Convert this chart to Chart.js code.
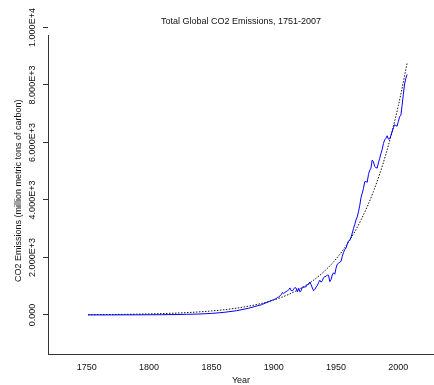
<!DOCTYPE html>
<html>
<head>
<meta charset="utf-8">
<script src="https://cdn.jsdelivr.net/npm/chart.js@4/dist/chart.umd.min.js"></script>
<style>body{margin:0;background:#fff}</style>
</head>
<body>
<canvas id="c" width="434" height="385"></canvas>
<script>
// annual global CO2 emissions (million metric tons of carbon)
const years = [1751, 1760, 1770, 1780, 1790, 1800, 1810, 1820, 1830, 1840, 1850, 1860, 1870, 1880, 1890,
  1900, 1901, 1902, 1903, 1904, 1905, 1906, 1907, 1908, 1909, 1910, 1911, 1912, 1913, 1914, 1915, 1916, 1917, 1918, 1919,
  1920, 1921, 1922, 1923, 1924, 1925, 1926, 1927, 1928, 1929, 1930, 1931, 1932, 1933, 1934, 1935, 1936, 1937, 1938, 1939,
  1940, 1941, 1942, 1943, 1944, 1945, 1946, 1947, 1948, 1949, 1950, 1951, 1952, 1953, 1954, 1955, 1956, 1957, 1958, 1959,
  1960, 1961, 1962, 1963, 1964, 1965, 1966, 1967, 1968, 1969, 1970, 1971, 1972, 1973, 1974, 1975, 1976, 1977, 1978, 1979,
  1980, 1981, 1982, 1983, 1984, 1985, 1986, 1987, 1988, 1989, 1990, 1991, 1992, 1993, 1994, 1995, 1996, 1997, 1998, 1999,
  2000, 2001, 2002, 2003, 2004, 2005, 2006, 2007];
const emissions = [3, 3, 3, 4, 5, 8, 10, 14, 24, 33, 54, 91, 147, 236, 356,
  534, 552, 566, 617, 624, 663, 707, 784, 750, 785, 819, 836, 879, 943, 850, 838, 901, 955, 936, 806,
  932, 803, 845, 970, 963, 975, 983, 1062, 1065, 1145, 1053, 940, 847, 893, 973, 1027, 1130, 1209, 1142, 1192,
  1299, 1334, 1342, 1391, 1383, 1160, 1238, 1392, 1469, 1419, 1630, 1768, 1796, 1841, 1865, 2043, 2178, 2270, 2330, 2462,
  2577, 2594, 2700, 2848, 3008, 3145, 3305, 3411, 3588, 3800, 4076, 4231, 4399, 4635, 4644, 4615, 4883, 5029, 5105, 5387,
  5332, 5168, 5127, 5110, 5290, 5444, 5610, 5753, 5964, 6089, 6144, 6235, 6118, 6124, 6242, 6372, 6510, 6619, 6588, 6569,
  6735, 6896, 6949, 7286, 7672, 8036, 8230, 8365];

// dotted trend curve
const fitYears = [1751, 1760, 1770, 1780, 1790, 1800, 1810, 1820, 1830, 1840, 1850, 1860, 1870, 1880, 1890,
  1900, 1910, 1920, 1930, 1940, 1950, 1960, 1970, 1980, 1990, 2000, 2007];
const fitValues = [10, 13, 17, 22, 29, 37, 49, 63, 82, 107, 140, 182, 237, 308, 401,
  521, 679, 884, 1150, 1497, 1948, 2536, 3302, 4297, 5593, 7280, 8755];

const xTicks = [1750, 1800, 1850, 1900, 1950, 2000];
const yTicks = [0, 2000, 4000, 6000, 8000, 10000];
const yAxisTop = 9740;

function sci(v) {
  if (v === 0) return '0.000';
  const e = Math.floor(Math.log10(v));
  return (v / Math.pow(10, e)).toFixed(3) + 'E+' + e;
}

// left axis line stops short of the top tick, like the original
const axisLine = {
  id: 'axisLine',
  afterDraw(chart) {
    const y = chart.scales.y, ctx = chart.ctx;
    const x = Math.round(chart.chartArea.left) + 0.5;
    ctx.save();
    ctx.strokeStyle = '#333';
    ctx.lineWidth = 1;
    ctx.beginPath();
    ctx.moveTo(x, y.getPixelForValue(yAxisTop));
    ctx.lineTo(x, chart.chartArea.bottom + 0.5);
    ctx.stroke();
    ctx.restore();
  }
};

const font = { family: 'Liberation Sans, Arial, sans-serif', size: 9, weight: 'normal' };

new Chart(document.getElementById('c').getContext('2d'), {
  type: 'line',
  data: {
    datasets: [{
      data: years.map((y, i) => ({ x: y, y: emissions[i] })),
      borderColor: '#0000ff',
      borderWidth: 1,
      pointRadius: 0,
      tension: 0,
      fill: false
    }, {
      data: fitYears.map((y, i) => ({ x: y, y: fitValues[i] })),
      borderColor: '#111',
      borderWidth: 1,
      borderDash: [1.5, 1.5],
      pointRadius: 0,
      cubicInterpolationMode: 'monotone',
      fill: false
    }]
  },
  options: {
    responsive: false,
    animation: false,
    layout: { padding: 0 },
    plugins: {
      legend: { display: false },
      tooltip: { enabled: false },
      title: {
        display: true,
        text: 'Total Global CO2 Emissions, 1751-2007',
        color: '#111',
        fullSize: false,
        font: { ...font, lineHeight: 1 },
        padding: { top: 17, bottom: 1.5 }
      }
    },
    scales: {
      x: {
        type: 'linear',
        min: 1718.9,
        max: 2028.6,
        afterBuildTicks: s => { s.ticks = xTicks.map(v => ({ value: v })); },
        afterFit: s => { s.height = 31; },
        grid: { display: false, drawTicks: false },
        border: { display: true, color: '#333', width: 1 },
        ticks: { color: '#111', font, padding: 8, maxRotation: 0, callback: v => String(v) },
        title: { display: true, text: 'Year', color: '#111', font: { ...font, lineHeight: 1 }, padding: 0 }
      },
      y: {
        min: -1357,
        max: 10000,
        afterBuildTicks: s => { s.ticks = yTicks.map(v => ({ value: v })); },
        afterFit: s => { s.width = 48; },
        grid: { display: true, drawOnChartArea: false, drawTicks: true, tickLength: 5, color: '#333' },
        border: { display: false },
        ticks: { color: '#111', font, minRotation: 90, maxRotation: 90, crossAlign: 'center', padding: -8.5, callback: v => sci(v) },
        title: { display: true, text: 'CO2 Emissions (million metric tons of carbon)', color: '#111', font: { ...font, lineHeight: 1 }, padding: { top: 14, bottom: 0 } }
      }
    }
  },
  plugins: [axisLine]
});
</script>
</body>
</html>
